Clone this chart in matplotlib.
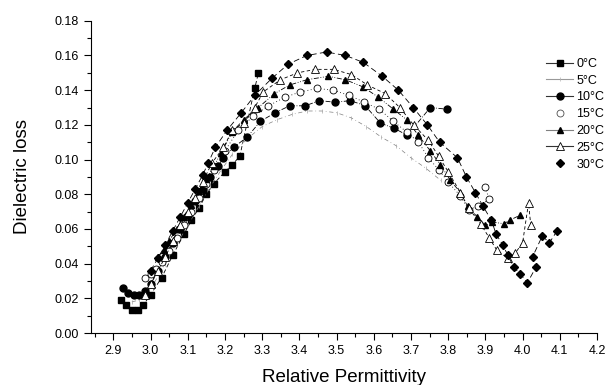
import matplotlib
matplotlib.use("Agg")
import matplotlib.pyplot as plt
from matplotlib.lines import Line2D
from matplotlib.ticker import MultipleLocator, FormatStrFormatter

plt.rcParams['font.family'] = ['Liberation Sans', 'DejaVu Sans']

# data (relative permittivity, dielectric loss)
x_0 = [2.92, 2.935, 2.95, 2.965, 2.98, 3.00, 3.03, 3.06, 3.09, 3.11, 3.13, 3.15, 3.17,
       3.20, 3.22, 3.24, 3.28, 3.29]
y_0 = [0.019, 0.016, 0.013, 0.013, 0.016, 0.022, 0.032, 0.045, 0.057, 0.065, 0.072,
       0.080, 0.086, 0.093, 0.097, 0.102, 0.141, 0.150]

x_5 = [2.95, 2.97, 2.99, 3.01, 3.04, 3.07, 3.10, 3.13, 3.16, 3.19, 3.22, 3.26, 3.30,
       3.34, 3.38, 3.42, 3.46, 3.50, 3.54, 3.58, 3.62, 3.66, 3.70, 3.74, 3.78]
y_5 = [0.018, 0.019, 0.023, 0.029, 0.040, 0.051, 0.062, 0.073, 0.084, 0.094, 0.103,
       0.112, 0.119, 0.123, 0.126, 0.128, 0.128, 0.127, 0.124, 0.119, 0.113, 0.108,
       0.101, 0.095, 0.088]

x_10 = [2.927, 2.94, 2.955, 2.97, 2.985, 3.0, 3.02, 3.04, 3.06, 3.08, 3.10, 3.12, 3.14,
        3.16, 3.18, 3.196, 3.223, 3.26, 3.295, 3.335, 3.374, 3.416, 3.454, 3.497, 3.537,
        3.577, 3.618, 3.655, 3.69, 3.752, 3.798]
y_10 = [0.026, 0.023, 0.022, 0.022, 0.024, 0.028, 0.036, 0.044, 0.052, 0.060, 0.068,
        0.076, 0.083, 0.090, 0.096, 0.101, 0.107, 0.113, 0.122, 0.127, 0.131, 0.131,
        0.134, 0.133, 0.134, 0.131, 0.121, 0.118, 0.114, 0.130, 0.129]

x_15 = [2.985, 3.0, 3.015, 3.03, 3.05, 3.07, 3.09, 3.11, 3.13, 3.15, 3.17, 3.20, 3.236,
        3.276, 3.317, 3.362, 3.403, 3.448, 3.49, 3.534, 3.575, 3.615, 3.653, 3.688, 3.72,
        3.747, 3.775, 3.80, 3.833, 3.855, 3.88, 3.91, 3.90]
y_15 = [0.032, 0.034, 0.037, 0.041, 0.047, 0.055, 0.062, 0.070, 0.078, 0.086, 0.094,
        0.105, 0.117, 0.125, 0.131, 0.136, 0.139, 0.141, 0.140, 0.137, 0.133, 0.129,
        0.122, 0.116, 0.110, 0.101, 0.094, 0.087, 0.079, 0.071, 0.073, 0.077, 0.084]

x_20 = [3.02, 3.035, 3.05, 3.07, 3.09, 3.11, 3.13, 3.15, 3.17, 3.19, 3.22, 3.25, 3.29,
        3.333, 3.374, 3.42, 3.478, 3.524, 3.57, 3.612, 3.653, 3.688, 3.72, 3.752, 3.779,
        3.806, 3.833, 3.852, 3.878, 3.90, 3.918, 3.95, 3.965, 3.994]
y_20 = [0.044, 0.048, 0.053, 0.060, 0.067, 0.074, 0.082, 0.089, 0.096, 0.104, 0.116,
        0.123, 0.130, 0.138, 0.143, 0.146, 0.148, 0.146, 0.142, 0.136, 0.129, 0.123,
        0.114, 0.105, 0.097, 0.088, 0.081, 0.073, 0.067, 0.062, 0.064, 0.063, 0.065, 0.068]

x_25 = [2.985, 3.0, 3.02, 3.04, 3.06, 3.08, 3.10, 3.12, 3.14, 3.165, 3.196, 3.22, 3.25,
        3.28, 3.303, 3.349, 3.395, 3.443, 3.492, 3.54, 3.583, 3.631, 3.67, 3.707, 3.747,
        3.774, 3.80, 3.833, 3.855, 3.887, 3.91, 3.93, 3.96, 3.98, 4.00, 4.016, 4.022]
y_25 = [0.022, 0.028, 0.036, 0.044, 0.053, 0.062, 0.070, 0.078, 0.087, 0.098, 0.107,
        0.117, 0.121, 0.130, 0.139, 0.146, 0.150, 0.152, 0.152, 0.149, 0.143, 0.138,
        0.130, 0.120, 0.111, 0.102, 0.093, 0.081, 0.072, 0.063, 0.055, 0.048, 0.043,
        0.046, 0.052, 0.075, 0.062]

x_30 = [3.0, 3.02, 3.04, 3.06, 3.08, 3.10, 3.12, 3.14, 3.155, 3.174, 3.206, 3.244, 3.28,
        3.327, 3.37, 3.42, 3.473, 3.524, 3.572, 3.623, 3.666, 3.706, 3.744, 3.777, 3.825,
        3.849, 3.873, 3.894, 3.916, 3.929, 3.946, 3.96, 3.976, 3.994, 4.013, 4.036, 4.027,
        4.053, 4.072, 4.093]
y_30 = [0.036, 0.043, 0.051, 0.059, 0.067, 0.075, 0.083, 0.091, 0.098, 0.107, 0.117,
        0.127, 0.137, 0.147, 0.155, 0.160, 0.162, 0.160, 0.156, 0.148, 0.140, 0.130,
        0.120, 0.110, 0.101, 0.090, 0.081, 0.073, 0.065, 0.057, 0.051, 0.045, 0.038,
        0.034, 0.029, 0.038, 0.044, 0.056, 0.052, 0.059]

labels = ['0\u00b0C', '5\u00b0C', '10\u00b0C', '15\u00b0C', '20\u00b0C', '25\u00b0C', '30\u00b0C']

fig = plt.figure(figsize=(6.12, 3.85), dpi=100)
ax = fig.add_axes([0.1487, 0.135, 0.8268, 0.811])

lw = 0.6
ms = 5
ax.plot(x_0, y_0, color='black', lw=lw, ls=(0, (5, 3)), marker='s', ms=ms - 0.5,
        mfc='black', mec='black')
ax.plot(x_5, y_5, color='0.5', lw=0.5, ls=(0, (6, 4, 1, 4)), marker='|', ms=3,
        mec='0.65', mew=0.5)
ax.plot(x_10, y_10, color='black', lw=lw, ls=(0, (6, 2, 1, 2)), marker='o', ms=ms,
        mfc='black', mec='black')
ax.plot(x_15, y_15, color='black', lw=lw, ls=(0, (1, 3)), marker='o', ms=ms,
        mfc='white', mec='black', mew=0.6)
ax.plot(x_20, y_20, color='black', lw=lw, ls=(0, (6, 2, 1, 2, 1, 2)), marker='^', ms=ms,
        mfc='black', mec='black')
ax.plot(x_25, y_25, color='black', lw=lw, ls=(0, (4, 3)), marker='^', ms=ms + 0.5,
        mfc='white', mec='black', mew=0.6)
ax.plot(x_30, y_30, color='black', lw=lw, ls=(0, (7, 4)), marker='D', ms=ms - 0.5,
        mfc='black', mec='black')

ax.set_xlim(2.84, 4.2)
ax.set_ylim(0, 0.18)
ax.xaxis.set_major_locator(MultipleLocator(0.1))
ax.xaxis.set_minor_locator(MultipleLocator(0.05))
ax.yaxis.set_major_locator(MultipleLocator(0.02))
ax.yaxis.set_minor_locator(MultipleLocator(0.01))
ax.xaxis.set_major_formatter(FormatStrFormatter('%.1f'))
ax.yaxis.set_major_formatter(FormatStrFormatter('%.2f'))
ax.tick_params(which='major', direction='out', length=5, width=0.8, labelsize=9)
ax.tick_params(which='minor', direction='out', length=3, width=0.8)
for s in ['top', 'right']:
    ax.spines[s].set_visible(False)
ax.spines['left'].set_linewidth(0.8)
ax.spines['bottom'].set_linewidth(0.8)

ax.set_xlabel('Relative Permittivity', fontsize=13.5, labelpad=9)
ax.set_ylabel('Dielectric loss', fontsize=13.5, labelpad=17)

# legend handles drawn like the original (solid short lines, none for 15 and 30)
handles = [
    Line2D([], [], color='0.2', lw=0.8, marker='s', ms=4.5, mfc='black', mec='black'),
    Line2D([], [], color='0.6', lw=0.8, marker='|', ms=3, mec='0.7', mew=0.5),
    Line2D([], [], color='0.2', lw=0.8, marker='o', ms=5, mfc='black', mec='black'),
    Line2D([], [], ls='none', marker='o', ms=5, mfc='white', mec='0.3', mew=0.6),
    Line2D([], [], color='0.5', lw=0.8, marker='^', ms=5, mfc='black', mec='black'),
    Line2D([], [], color='0.2', lw=0.8, marker='^', ms=5.5, mfc='white', mec='black', mew=0.6),
    Line2D([], [], ls='none', marker='D', ms=4.5, mfc='black', mec='black'),
]
fig.legend(handles, labels, loc='upper left', bbox_to_anchor=(0.892, 1 - 58 / 385),
           frameon=False, fontsize=9, handlelength=2.2, handletextpad=0.25,
           labelspacing=0.38, borderpad=0, borderaxespad=0)

fig.savefig('out.png', dpi=100)
